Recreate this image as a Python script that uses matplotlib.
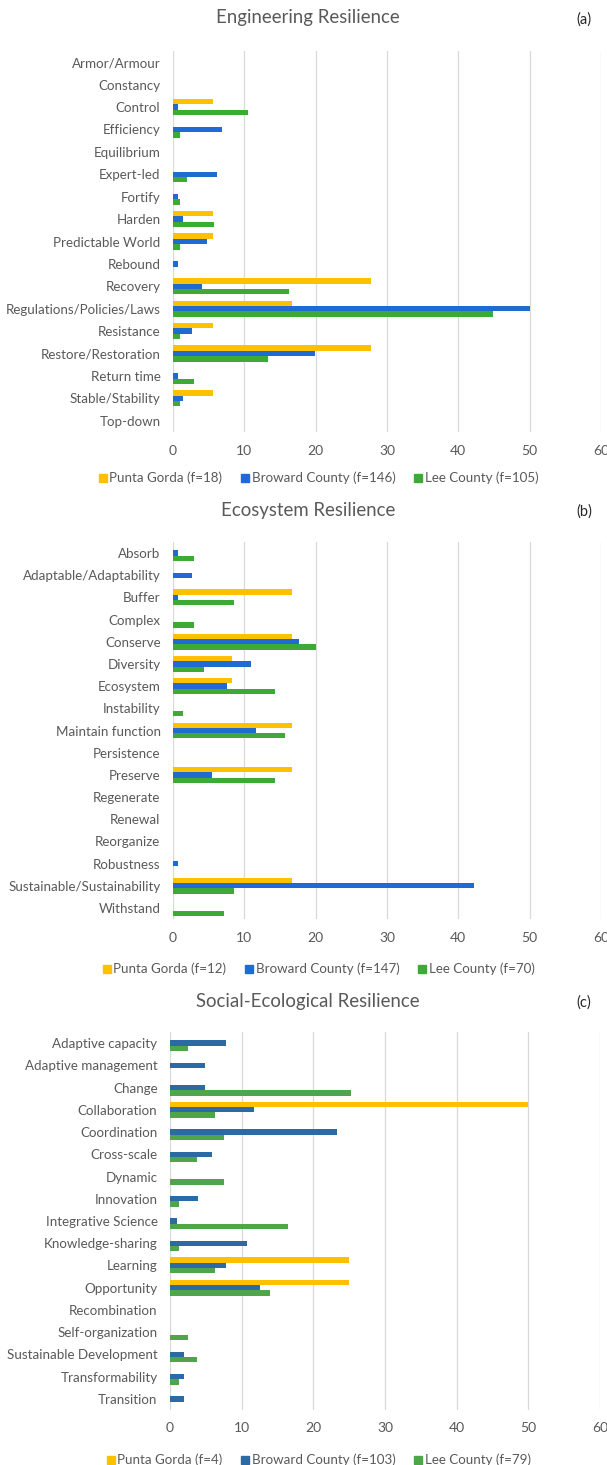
import numpy as np
import matplotlib
matplotlib.use("Agg")
import matplotlib.pyplot as plt
from matplotlib.lines import Line2D

plt.rcParams["font.family"] = ["Lato", "DejaVu Sans"]

# ---- data (percent of mentions) ----
cats_a = [
    "Armor/Armour", "Constancy", "Control", "Efficiency", "Equilibrium",
    "Expert-led", "Fortify", "Harden", "Predictable World", "Rebound",
    "Recovery", "Regulations/Policies/Laws", "Resistance",
    "Restore/Restoration", "Return time", "Stable/Stability", "Top-down",
]
punta_a = [0, 0, 5.6, 0, 0, 0, 0, 5.6, 5.6, 0, 27.8, 16.7, 5.6, 27.8, 0, 5.6, 0]
broward_a = [0, 0, 0.7, 6.8, 0, 6.2, 0.7, 1.4, 4.8, 0.7, 4.1, 50.0, 2.7, 19.9, 0.7, 1.4, 0]
lee_a = [0, 0, 10.5, 1.0, 0, 1.9, 1.0, 5.7, 1.0, 0, 16.2, 44.8, 1.0, 13.3, 2.9, 1.0, 0]
legend_a = ["Punta Gorda (f=18)", "Broward County (f=146)", "Lee County (f=105)"]

cats_b = [
    "Absorb", "Adaptable/Adaptability", "Buffer", "Complex", "Conserve",
    "Diversity", "Ecosystem", "Instability", "Maintain function", "Persistence",
    "Preserve", "Regenerate", "Renewal", "Reorganize", "Robustness",
    "Sustainable/Sustainability", "Withstand",
]
punta_b = [0, 0, 16.7, 0, 16.7, 8.3, 8.3, 0, 16.7, 0, 16.7, 0, 0, 0, 0, 16.7, 0]
broward_b = [0.7, 2.7, 0.7, 0, 17.7, 10.9, 7.5, 0, 11.6, 0, 5.4, 0, 0, 0, 0.7, 42.2, 0]
lee_b = [2.9, 0, 8.6, 2.9, 20.0, 4.3, 14.3, 1.4, 15.7, 0, 14.3, 0, 0, 0, 0, 8.6, 7.1]
legend_b = ["Punta Gorda (f=12)", "Broward County (f=147)", "Lee County (f=70)"]

cats_c = [
    "Adaptive capacity", "Adaptive management", "Change", "Collaboration",
    "Coordination", "Cross-scale", "Dynamic", "Innovation",
    "Integrative Science", "Knowledge-sharing", "Learning", "Opportunity",
    "Recombination", "Self-organization", "Sustainable Development",
    "Transformability", "Transition",
]
punta_c = [0, 0, 0, 50.0, 0, 0, 0, 0, 0, 0, 25.0, 25.0, 0, 0, 0, 0, 0]
broward_c = [7.8, 4.9, 4.9, 11.7, 23.3, 5.8, 0, 3.9, 1.0, 10.7, 7.8, 12.6, 0, 0, 1.9, 1.9, 1.9]
lee_c = [2.5, 0, 25.3, 6.3, 7.6, 3.8, 7.6, 1.3, 16.5, 1.3, 6.3, 13.9, 0, 2.5, 3.8, 1.3, 0]
legend_c = ["Punta Gorda (f=4)", "Broward County (f=103)", "Lee County (f=79)"]

xticks = [0, 10, 20, 30, 40, 50, 60]

TXT = "#595959"
GRID = "#d9d9d9"
W, H = 607, 1465

fig = plt.figure(figsize=(W / 100, H / 100), dpi=100)


def px_axes(left, top, right, bottom):
    return fig.add_axes([left / W, 1 - bottom / H, (right - left) / W, (bottom - top) / H])


def panel(ax, cats, pg, bc, lc, colors):
    y = np.arange(len(cats))
    h = 0.24
    ax.barh(y - h, pg, height=h, color=colors[0], zorder=3)
    ax.barh(y, bc, height=h, color=colors[1], zorder=3)
    ax.barh(y + h, lc, height=h, color=colors[2], zorder=3)
    ax.set_xlim(0, 60)
    ax.set_ylim(len(cats) - 0.5, -0.5)
    ax.set_yticks(y)
    ax.set_yticklabels(cats)
    ax.set_xticks(xticks)
    ax.grid(axis="x", color=GRID, linewidth=0.9, zorder=0)
    for s in ax.spines.values():
        s.set_visible(False)
    ax.tick_params(axis="y", length=0, pad=9, labelsize=9.6, labelcolor=TXT)
    ax.tick_params(axis="x", length=0, pad=9, labelsize=10, labelcolor=TXT)


def legend(labels, colors, ypx):
    handles = [
        Line2D([], [], marker="s", linestyle="none", markersize=6,
               markerfacecolor=c, markeredgecolor=c)
        for c in colors
    ]
    fig.legend(handles, labels, loc="center", ncol=3, frameon=False,
               bbox_to_anchor=(318 / W, 1 - ypx / H), fontsize=9.6,
               labelcolor=TXT, handletextpad=0.1, columnspacing=1.3,
               handlelength=0.8)


col_ab = ["#ffc000", "#1f6bd1", "#3daa36"]
col_c = ["#ffc000", "#2c6aa6", "#4ea54a"]

ax1 = px_axes(173, 51, 601, 432)
panel(ax1, cats_a, punta_a, broward_a, lee_a, col_ab)
ax2 = px_axes(173, 542, 601, 919)
panel(ax2, cats_b, punta_b, broward_b, lee_b, col_ab)
ax3 = px_axes(170, 1032, 600, 1410)
panel(ax3, cats_c, punta_c, broward_c, lee_c, col_c)

titles = [("Engineering Resilience", "(a)", 18), ("Ecosystem Resilience", "(b)", 510),
          ("Social-Ecological Resilience", "(c)", 1001)]
for t, lab, ypx in titles:
    fig.text(308 / W, 1 - ypx / H, t, ha="center", va="center", fontsize=13.4, color=TXT)
    fig.text(584 / W, 1 - (ypx + 2) / H, lab, ha="center", va="center", fontsize=10.5, color="#262626")

legend(legend_a, col_ab, 478)
legend(legend_b, col_ab, 969)
legend(legend_c, col_c, 1460)

fig.savefig("out.png", dpi=100)
